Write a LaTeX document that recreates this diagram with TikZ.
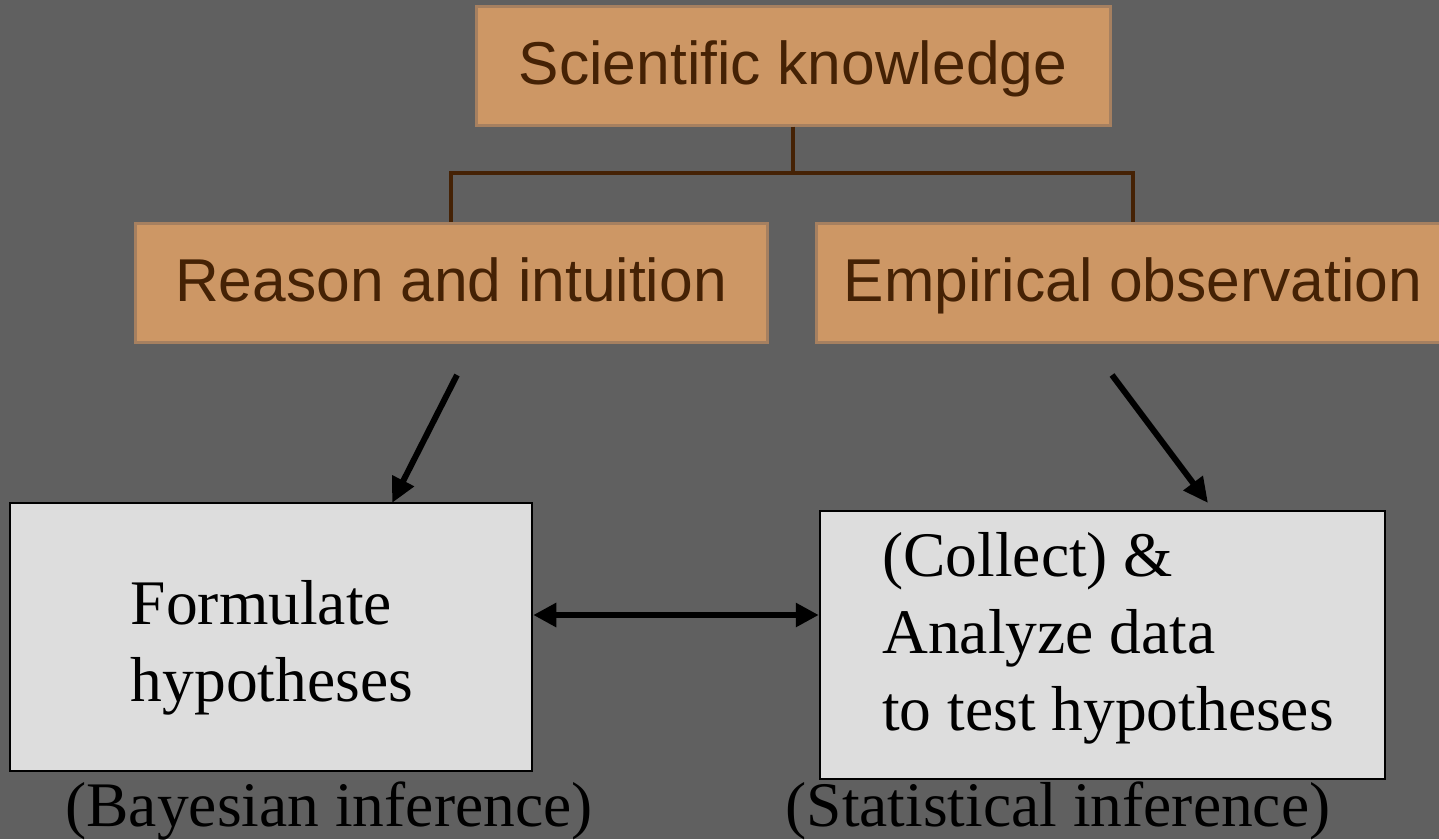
\documentclass[tikz,border=0pt]{standalone}
\usepackage{fontspec}
\setmainfont{Liberation Serif}
\newfontfamily\arialfont{Liberation Sans}
\usetikzlibrary{arrows.meta}
\definecolor{bg}{RGB}{96,96,96}
\definecolor{tan}{RGB}{205,151,101}
\definecolor{tanedge}{RGB}{166,128,96}
\definecolor{brown}{RGB}{69,34,5}
\definecolor{lgray}{RGB}{221,221,221}
\tikzset{
  orangebox/.style={draw=tanedge, line width=3pt, fill=tan, text=brown, minimum height=119pt,
    inner sep=0pt, text height=43pt, text depth=5pt, font=\arialfont\fontsize{60.5}{72}\selectfont},
  graybox/.style={draw=black, line width=2.5pt, fill=lgray, minimum height=268pt, inner sep=0pt},
  bodytext/.style={align=left, inner sep=0pt, font=\fontsize{63.5}{77}\selectfont},
  tree/.style={draw=brown, line width=3.2pt},
  bigarrow/.style={draw=black, line width=6pt, -{Triangle[length=25pt,width=23pt]}},
  dblarrow/.style={draw=black, line width=6.5pt, {Triangle[length=23pt,width=23pt]}-{Triangle[length=23pt,width=23pt]}}
}
\begin{document}
\begin{tikzpicture}[x=1pt,y=-1pt]
\fill[bg] (0,0) rectangle (1439,839);
\useasboundingbox (0,0) rectangle (1439,839);

\node[orangebox, minimum width=634pt] (top) at (793,65.5) {Scientific knowledge};
\node[orangebox, minimum width=632pt] (lo) at (451,282.5) {Reason and intuition};
\node[orangebox, minimum width=634pt] (ro) at (1133,282.5) {Empirical observation};

\coordinate (bar) at (0,173);
\draw[tree] (top.south) -- (top.south |- bar);
\draw[tree] (lo.north) |- (top.south |- bar) -| (ro.north);

\node[graybox, minimum width=522pt] (lb) at (271,637) {};
\node[graybox, minimum width=565pt] (rb) at (1102.5,645) {};

\node[bodytext] (lt) at (272,647.5) {Formulate\\hypotheses};
\node[bodytext] (rt) at (1108,638) {(Collect) \&\\Analyze data\\to test hypotheses};

\coordinate (a1s) at (457,375);
\coordinate (a1e) at (392,503);
\coordinate (a2s) at (1112,375);
\coordinate (a2e) at (1208,503);
\draw[bigarrow] (a1s) -- (a1e);
\draw[bigarrow] (a2s) -- (a2e);

\coordinate (mid) at (0,615);
\draw[dblarrow] (lb.east |- mid) -- (rb.west |- mid);

\node[inner sep=0pt, font=\fontsize{63.5}{77}\selectfont] (bl) at (329,811) {(Bayesian inference)};
\node[inner sep=0pt, font=\fontsize{63.5}{77}\selectfont] (sl) at (1058,811) {(Statistical inference)};
\end{tikzpicture}
\end{document}
